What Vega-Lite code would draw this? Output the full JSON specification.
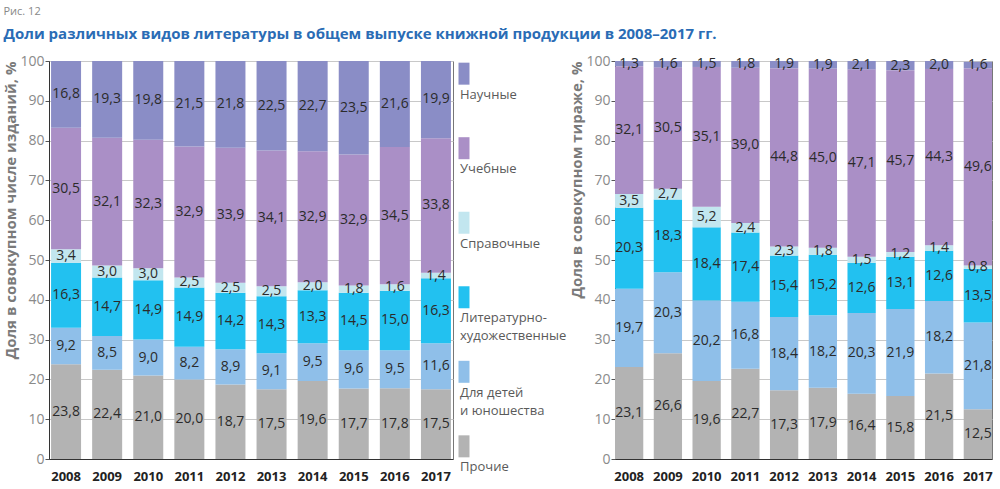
{
  "$schema": "https://vega.github.io/schema/vega-lite/v6.json",
  "padding": {"left": 3, "top": 5, "right": 5, "bottom": 3},
  "background": "white",
  "bounds": "flush",
  "spacing": 11,
  "title": {
    "text": "Рис. 12",
    "subtitle": "Доли различных видов литературы в общем выпуске книжной продукции в 2008–2017 гг.",
    "anchor": "start",
    "frame": "bounds",
    "font": "Open Sans",
    "fontSize": 11,
    "fontWeight": "normal",
    "color": "#888888",
    "subtitleFont": "Open Sans",
    "subtitleFontSize": 15,
    "subtitleFontWeight": "bold",
    "subtitleColor": "#2a6cb5",
    "subtitlePadding": 10,
    "offset": 12
  },
  "config": {
    "font": "Open Sans",
    "locale": {"number": {"decimal": ",", "thousands": " ", "grouping": [3], "currency": ["", " ₽"]}},
    "view": {"stroke": "#777777", "strokeWidth": 1},
    "axisY": {
      "grid": true,
      "gridColor": "#c8c8c8",
      "values": [0, 10, 20, 30, 40, 50, 60, 70, 80, 90, 100],
      "labelFontSize": 14,
      "labelColor": "#8a8a8a",
      "labelPadding": 1,
      "domainColor": "#333333",
      "tickColor": "#555555",
      "tickSize": 4,
      "titleFontSize": 15,
      "titleColor": "#7a7a7a",
      "titleFontWeight": "bold",
      "titlePadding": 1,
      "titleAnchor": "end"
    },
    "axisX": {
      "labelAngle": 0,
      "labelFontWeight": "bold",
      "labelFontSize": 13,
      "labelColor": "#222222",
      "ticks": false,
      "domainColor": "#333333",
      "labelPadding": 11
    }
  },
  "datasets": {
    "editions": [
      {"year": "2008", "cat": "Прочие", "value": 23.8, "k": 1},
      {"year": "2008", "cat": "Для детей и юношества", "value": 9.2, "k": 2},
      {"year": "2008", "cat": "Литературно-художественные", "value": 16.3, "k": 3},
      {"year": "2008", "cat": "Справочные", "value": 3.4, "k": 4},
      {"year": "2008", "cat": "Учебные", "value": 30.5, "k": 5},
      {"year": "2008", "cat": "Научные", "value": 16.8, "k": 6},
      {"year": "2009", "cat": "Прочие", "value": 22.4, "k": 1},
      {"year": "2009", "cat": "Для детей и юношества", "value": 8.5, "k": 2},
      {"year": "2009", "cat": "Литературно-художественные", "value": 14.7, "k": 3},
      {"year": "2009", "cat": "Справочные", "value": 3.0, "k": 4},
      {"year": "2009", "cat": "Учебные", "value": 32.1, "k": 5},
      {"year": "2009", "cat": "Научные", "value": 19.3, "k": 6},
      {"year": "2010", "cat": "Прочие", "value": 21.0, "k": 1},
      {"year": "2010", "cat": "Для детей и юношества", "value": 9.0, "k": 2},
      {"year": "2010", "cat": "Литературно-художественные", "value": 14.9, "k": 3},
      {"year": "2010", "cat": "Справочные", "value": 3.0, "k": 4},
      {"year": "2010", "cat": "Учебные", "value": 32.3, "k": 5},
      {"year": "2010", "cat": "Научные", "value": 19.8, "k": 6},
      {"year": "2011", "cat": "Прочие", "value": 20.0, "k": 1},
      {"year": "2011", "cat": "Для детей и юношества", "value": 8.2, "k": 2},
      {"year": "2011", "cat": "Литературно-художественные", "value": 14.9, "k": 3},
      {"year": "2011", "cat": "Справочные", "value": 2.5, "k": 4},
      {"year": "2011", "cat": "Учебные", "value": 32.9, "k": 5},
      {"year": "2011", "cat": "Научные", "value": 21.5, "k": 6},
      {"year": "2012", "cat": "Прочие", "value": 18.7, "k": 1},
      {"year": "2012", "cat": "Для детей и юношества", "value": 8.9, "k": 2},
      {"year": "2012", "cat": "Литературно-художественные", "value": 14.2, "k": 3},
      {"year": "2012", "cat": "Справочные", "value": 2.5, "k": 4},
      {"year": "2012", "cat": "Учебные", "value": 33.9, "k": 5},
      {"year": "2012", "cat": "Научные", "value": 21.8, "k": 6},
      {"year": "2013", "cat": "Прочие", "value": 17.5, "k": 1},
      {"year": "2013", "cat": "Для детей и юношества", "value": 9.1, "k": 2},
      {"year": "2013", "cat": "Литературно-художественные", "value": 14.3, "k": 3},
      {"year": "2013", "cat": "Справочные", "value": 2.5, "k": 4},
      {"year": "2013", "cat": "Учебные", "value": 34.1, "k": 5},
      {"year": "2013", "cat": "Научные", "value": 22.5, "k": 6},
      {"year": "2014", "cat": "Прочие", "value": 19.6, "k": 1},
      {"year": "2014", "cat": "Для детей и юношества", "value": 9.5, "k": 2},
      {"year": "2014", "cat": "Литературно-художественные", "value": 13.3, "k": 3},
      {"year": "2014", "cat": "Справочные", "value": 2.0, "k": 4},
      {"year": "2014", "cat": "Учебные", "value": 32.9, "k": 5},
      {"year": "2014", "cat": "Научные", "value": 22.7, "k": 6},
      {"year": "2015", "cat": "Прочие", "value": 17.7, "k": 1},
      {"year": "2015", "cat": "Для детей и юношества", "value": 9.6, "k": 2},
      {"year": "2015", "cat": "Литературно-художественные", "value": 14.5, "k": 3},
      {"year": "2015", "cat": "Справочные", "value": 1.8, "k": 4},
      {"year": "2015", "cat": "Учебные", "value": 32.9, "k": 5},
      {"year": "2015", "cat": "Научные", "value": 23.5, "k": 6},
      {"year": "2016", "cat": "Прочие", "value": 17.8, "k": 1},
      {"year": "2016", "cat": "Для детей и юношества", "value": 9.5, "k": 2},
      {"year": "2016", "cat": "Литературно-художественные", "value": 15.0, "k": 3},
      {"year": "2016", "cat": "Справочные", "value": 1.6, "k": 4},
      {"year": "2016", "cat": "Учебные", "value": 34.5, "k": 5},
      {"year": "2016", "cat": "Научные", "value": 21.6, "k": 6},
      {"year": "2017", "cat": "Прочие", "value": 17.5, "k": 1},
      {"year": "2017", "cat": "Для детей и юношества", "value": 11.6, "k": 2},
      {"year": "2017", "cat": "Литературно-художественные", "value": 16.3, "k": 3},
      {"year": "2017", "cat": "Справочные", "value": 1.4, "k": 4},
      {"year": "2017", "cat": "Учебные", "value": 33.8, "k": 5},
      {"year": "2017", "cat": "Научные", "value": 19.9, "k": 6}
    ],
    "circulation": [
      {"year": "2008", "cat": "Прочие", "value": 23.1, "k": 1},
      {"year": "2008", "cat": "Для детей и юношества", "value": 19.7, "k": 2},
      {"year": "2008", "cat": "Литературно-художественные", "value": 20.3, "k": 3},
      {"year": "2008", "cat": "Справочные", "value": 3.5, "k": 4},
      {"year": "2008", "cat": "Учебные", "value": 32.1, "k": 5},
      {"year": "2008", "cat": "Научные", "value": 1.3, "k": 6},
      {"year": "2009", "cat": "Прочие", "value": 26.6, "k": 1},
      {"year": "2009", "cat": "Для детей и юношества", "value": 20.3, "k": 2},
      {"year": "2009", "cat": "Литературно-художественные", "value": 18.3, "k": 3},
      {"year": "2009", "cat": "Справочные", "value": 2.7, "k": 4},
      {"year": "2009", "cat": "Учебные", "value": 30.5, "k": 5},
      {"year": "2009", "cat": "Научные", "value": 1.6, "k": 6},
      {"year": "2010", "cat": "Прочие", "value": 19.6, "k": 1},
      {"year": "2010", "cat": "Для детей и юношества", "value": 20.2, "k": 2},
      {"year": "2010", "cat": "Литературно-художественные", "value": 18.4, "k": 3},
      {"year": "2010", "cat": "Справочные", "value": 5.2, "k": 4},
      {"year": "2010", "cat": "Учебные", "value": 35.1, "k": 5},
      {"year": "2010", "cat": "Научные", "value": 1.5, "k": 6},
      {"year": "2011", "cat": "Прочие", "value": 22.7, "k": 1},
      {"year": "2011", "cat": "Для детей и юношества", "value": 16.8, "k": 2},
      {"year": "2011", "cat": "Литературно-художественные", "value": 17.4, "k": 3},
      {"year": "2011", "cat": "Справочные", "value": 2.4, "k": 4},
      {"year": "2011", "cat": "Учебные", "value": 39.0, "k": 5},
      {"year": "2011", "cat": "Научные", "value": 1.8, "k": 6},
      {"year": "2012", "cat": "Прочие", "value": 17.3, "k": 1},
      {"year": "2012", "cat": "Для детей и юношества", "value": 18.4, "k": 2},
      {"year": "2012", "cat": "Литературно-художественные", "value": 15.4, "k": 3},
      {"year": "2012", "cat": "Справочные", "value": 2.3, "k": 4},
      {"year": "2012", "cat": "Учебные", "value": 44.8, "k": 5},
      {"year": "2012", "cat": "Научные", "value": 1.9, "k": 6},
      {"year": "2013", "cat": "Прочие", "value": 17.9, "k": 1},
      {"year": "2013", "cat": "Для детей и юношества", "value": 18.2, "k": 2},
      {"year": "2013", "cat": "Литературно-художественные", "value": 15.2, "k": 3},
      {"year": "2013", "cat": "Справочные", "value": 1.8, "k": 4},
      {"year": "2013", "cat": "Учебные", "value": 45.0, "k": 5},
      {"year": "2013", "cat": "Научные", "value": 1.9, "k": 6},
      {"year": "2014", "cat": "Прочие", "value": 16.4, "k": 1},
      {"year": "2014", "cat": "Для детей и юношества", "value": 20.3, "k": 2},
      {"year": "2014", "cat": "Литературно-художественные", "value": 12.6, "k": 3},
      {"year": "2014", "cat": "Справочные", "value": 1.5, "k": 4},
      {"year": "2014", "cat": "Учебные", "value": 47.1, "k": 5},
      {"year": "2014", "cat": "Научные", "value": 2.1, "k": 6},
      {"year": "2015", "cat": "Прочие", "value": 15.8, "k": 1},
      {"year": "2015", "cat": "Для детей и юношества", "value": 21.9, "k": 2},
      {"year": "2015", "cat": "Литературно-художественные", "value": 13.1, "k": 3},
      {"year": "2015", "cat": "Справочные", "value": 1.2, "k": 4},
      {"year": "2015", "cat": "Учебные", "value": 45.7, "k": 5},
      {"year": "2015", "cat": "Научные", "value": 2.3, "k": 6},
      {"year": "2016", "cat": "Прочие", "value": 21.5, "k": 1},
      {"year": "2016", "cat": "Для детей и юношества", "value": 18.2, "k": 2},
      {"year": "2016", "cat": "Литературно-художественные", "value": 12.6, "k": 3},
      {"year": "2016", "cat": "Справочные", "value": 1.4, "k": 4},
      {"year": "2016", "cat": "Учебные", "value": 44.3, "k": 5},
      {"year": "2016", "cat": "Научные", "value": 2.0, "k": 6},
      {"year": "2017", "cat": "Прочие", "value": 12.5, "k": 1},
      {"year": "2017", "cat": "Для детей и юношества", "value": 21.8, "k": 2},
      {"year": "2017", "cat": "Литературно-художественные", "value": 13.5, "k": 3},
      {"year": "2017", "cat": "Справочные", "value": 0.8, "k": 4},
      {"year": "2017", "cat": "Учебные", "value": 49.6, "k": 5},
      {"year": "2017", "cat": "Научные", "value": 1.6, "k": 6}
    ],
    "legend": [
      {"cat": "Научные", "label": "Научные"},
      {"cat": "Учебные", "label": "Учебные"},
      {"cat": "Справочные", "label": "Справочные"},
      {"cat": "Литературно-художественные", "label": "Литературно-\nхудожественные"},
      {"cat": "Для детей и юношества", "label": "Для детей\nи юношества"},
      {"cat": "Прочие", "label": "Прочие"}
    ]
  },
  "hconcat": [
    {
      "width": 404,
      "height": 398,
      "data": {"name": "editions"},
      "transform": [
        {"stack": "value", "groupby": ["year"], "sort": [{"field": "k", "order": "ascending"}], "as": ["y0", "y1"]},
        {"calculate": "(datum.y0 + datum.y1) / 2", "as": "mid"}
      ],
      "encoding": {
        "x": {"field": "year", "type": "ordinal", "title": null, "scale": {"paddingInner": 0.27, "paddingOuter": 0.05}}
      },
      "layer": [
        {
          "mark": {"type": "bar"},
          "encoding": {
            "y": {"field": "y0", "type": "quantitative", "scale": {"domain": [0, 100], "clamp": true, "nice": false}, "title": "Доля в совокупном числе изданий, %"},
            "y2": {"field": "y1"},
            "color": {
              "field": "cat", "type": "nominal", "legend": null,
              "scale": {
                "domain": ["Научные", "Учебные", "Справочные", "Литературно-художественные", "Для детей и юношества", "Прочие"],
                "range": ["#8a8dc6", "#aa8fc6", "#c2e6ef", "#22c1f0", "#8fbfe9", "#b3b3b3"]
              }
            }
          }
        },
        {
          "mark": {"type": "text", "fontSize": 14, "color": "#2b2b2b"},
          "encoding": {
            "y": {"field": "mid", "type": "quantitative"},
            "text": {"field": "value", "type": "quantitative", "format": ".1f"}
          }
        }
      ]
    },
    {
      "width": 140,
      "height": 398,
      "view": {"stroke": null},
      "data": {"name": "legend"},
      "encoding": {
        "x": {"datum": 0, "type": "quantitative", "scale": {"domain": [0, 1]}, "axis": null},
        "y": {
          "field": "cat", "type": "nominal", "axis": null,
          "sort": ["Научные", "Учебные", "Справочные", "Литературно-художественные", "Для детей и юношества", "Прочие"],
          "scale": {"type": "point", "padding": 0.17}
        }
      },
      "layer": [
        {
          "mark": {"type": "point", "shape": "M-0.5,-1H0.5V1H-0.5Z", "filled": true, "opacity": 1, "size": 484, "strokeWidth": 0},
          "encoding": {
            "color": {"field": "cat", "type": "nominal", "legend": null}
          }
        },
        {
          "mark": {"type": "text", "align": "left", "baseline": "top", "dx": -4, "dy": 15, "fontSize": 13, "color": "#5a5a5a", "lineHeight": 18, "lineBreak": "\n"},
          "encoding": {
            "text": {"field": "label", "type": "nominal"}
          }
        }
      ]
    },
    {
      "width": 377,
      "height": 398,
      "data": {"name": "circulation"},
      "transform": [
        {"stack": "value", "groupby": ["year"], "sort": [{"field": "k", "order": "ascending"}], "as": ["y0", "y1"]},
        {"calculate": "(datum.y0 + datum.y1) / 2", "as": "mid"}
      ],
      "encoding": {
        "x": {"field": "year", "type": "ordinal", "title": null, "scale": {"paddingInner": 0.27, "paddingOuter": 0.0}}
      },
      "layer": [
        {
          "mark": {"type": "bar"},
          "encoding": {
            "y": {"field": "y0", "type": "quantitative", "scale": {"domain": [0, 100], "clamp": true, "nice": false}, "title": "Доля в совокупном тираже, %"},
            "y2": {"field": "y1"},
            "color": {"field": "cat", "type": "nominal", "legend": null}
          }
        },
        {
          "mark": {"type": "text", "fontSize": 14, "color": "#2b2b2b"},
          "encoding": {
            "y": {"field": "mid", "type": "quantitative"},
            "text": {"field": "value", "type": "quantitative", "format": ".1f"}
          }
        }
      ]
    }
  ]
}
